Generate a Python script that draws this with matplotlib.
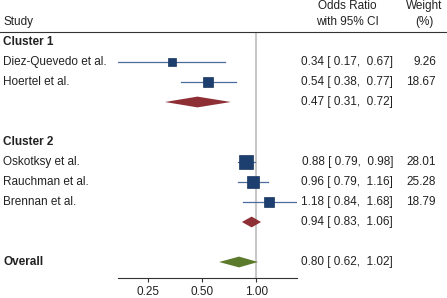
import numpy as np
import matplotlib
matplotlib.use("Agg")
import matplotlib.pyplot as plt
import matplotlib.transforms as mtransforms

plt.rcParams['font.family'] = ['Liberation Sans', 'DejaVu Sans']

# studies
studies = ['Diez-Quevedo et al.', 'Hoertel et al.',
           'Oskotksy et al.', 'Rauchman et al.', 'Brennan et al.']
study_or = [0.34, 0.54, 0.88, 0.96, 1.18]
study_lo = [0.17, 0.38, 0.79, 0.79, 0.84]
study_hi = [0.67, 0.77, 0.98, 1.16, 1.68]
weights = [9.26, 18.67, 28.01, 25.28, 18.79]
study_rows = [1, 2, 6, 7, 8]

# pooled estimates
pooled_or = [0.47, 0.94, 0.80]
pooled_lo = [0.31, 0.83, 0.62]
pooled_hi = [0.72, 1.06, 1.02]
pooled_rows = [3, 9, 11]
pooled_colors = ['#8E2F36', '#8E2F36', '#5B7A2B']

headers = ['Cluster 1', 'Cluster 2', 'Overall']
header_rows = [0, 5, 11]

xticks = [0.25, 0.50, 1.00]
xticklabels = ['0.25', '0.50', '1.00']

W, H = 447, 298
fig = plt.figure(figsize=(W / 100, H / 100), dpi=100)
ax = fig.add_axes([118 / W, 20 / H, (297 - 118) / W, (266 - 20) / H])
ax.set_xscale('log')
ax.set_xlim(min(study_lo), max(study_hi))
ax.set_ylim(11.8, -0.5)

for s in ['top', 'right', 'left']:
    ax.spines[s].set_visible(False)
ax.spines['bottom'].set_color('#333333')
ax.spines['bottom'].set_linewidth(0.8)
ax.set_yticks([])
ax.set_xticks(xticks)
ax.set_xticklabels(xticklabels)
ax.xaxis.set_minor_locator(matplotlib.ticker.NullLocator())
ax.tick_params(axis='x', labelsize=8.5, length=3, width=0.8, color='#333333',
               labelcolor='#222222', pad=3)

ax.axvline(1.0, color='#C8C8C8', lw=1.5, zorder=0)

# study squares and CIs
for r, o, lo, hi, w in zip(study_rows, study_or, study_lo, study_hi, weights):
    ax.plot([lo, hi], [r, r], color='#4C6C9C', lw=0.9, zorder=2)
    ax.plot(o, r, marker='s', ms=9.6 * np.sqrt(w / 28.01), color='#1D3F6F',
            mec='#1A355C', mew=0.5, zorder=3)

# pooled diamonds
for r, o, lo, hi, c in zip(pooled_rows, pooled_or, pooled_lo, pooled_hi, pooled_colors):
    ax.fill([lo, o, hi, o], [r, r - 0.27, r, r + 0.27], color=c, zorder=3, lw=0)

# text columns
tr = mtransforms.blended_transform_factory(fig.transFigure, ax.transData)
fs = 8.5
tc = '#222222'
for name, r in zip(studies, study_rows):
    ax.text(3 / W, r, name, transform=tr, fontsize=fs, va='center', ha='left',
            color=tc, clip_on=False)
for name, r in zip(headers, header_rows):
    ax.text(3 / W, r, name, transform=tr, fontsize=fs, va='center', ha='left',
            fontweight='bold', color=tc, clip_on=False)

for r, o, lo, hi, w in zip(study_rows, study_or, study_lo, study_hi, weights):
    ax.text(393 / W, r, f'{o:.2f} [ {lo:.2f},  {hi:.2f}]', transform=tr, fontsize=fs,
            va='center', ha='right', color=tc, clip_on=False)
    ax.text(436 / W, r, f'{w:.2f}', transform=tr, fontsize=fs, va='center', ha='right',
            color=tc, clip_on=False)
for r, o, lo, hi in zip(pooled_rows, pooled_or, pooled_lo, pooled_hi):
    ax.text(393 / W, r, f'{o:.2f} [ {lo:.2f},  {hi:.2f}]', transform=tr, fontsize=fs,
            va='center', ha='right', color=tc, clip_on=False)

# column headers
fig.text(3 / W, 1 - 22 / H, 'Study', fontsize=fs, va='center', ha='left', color=tc)
fig.text(347 / W, 1 - 6 / H, 'Odds Ratio', fontsize=fs, va='center', ha='center', color=tc)
fig.text(347 / W, 1 - 22 / H, 'with 95% CI', fontsize=fs, va='center', ha='center', color=tc)
fig.text(424 / W, 1 - 6 / H, 'Weight', fontsize=fs, va='center', ha='center', color=tc)
fig.text(424 / W, 1 - 22 / H, '(%)', fontsize=fs, va='center', ha='center', color=tc)
fig.add_artist(plt.Line2D([0, 1], [1 - 32 / H, 1 - 32 / H], transform=fig.transFigure,
                          color='#333333', lw=0.8))

fig.savefig('out.png', dpi=100, facecolor='white')
